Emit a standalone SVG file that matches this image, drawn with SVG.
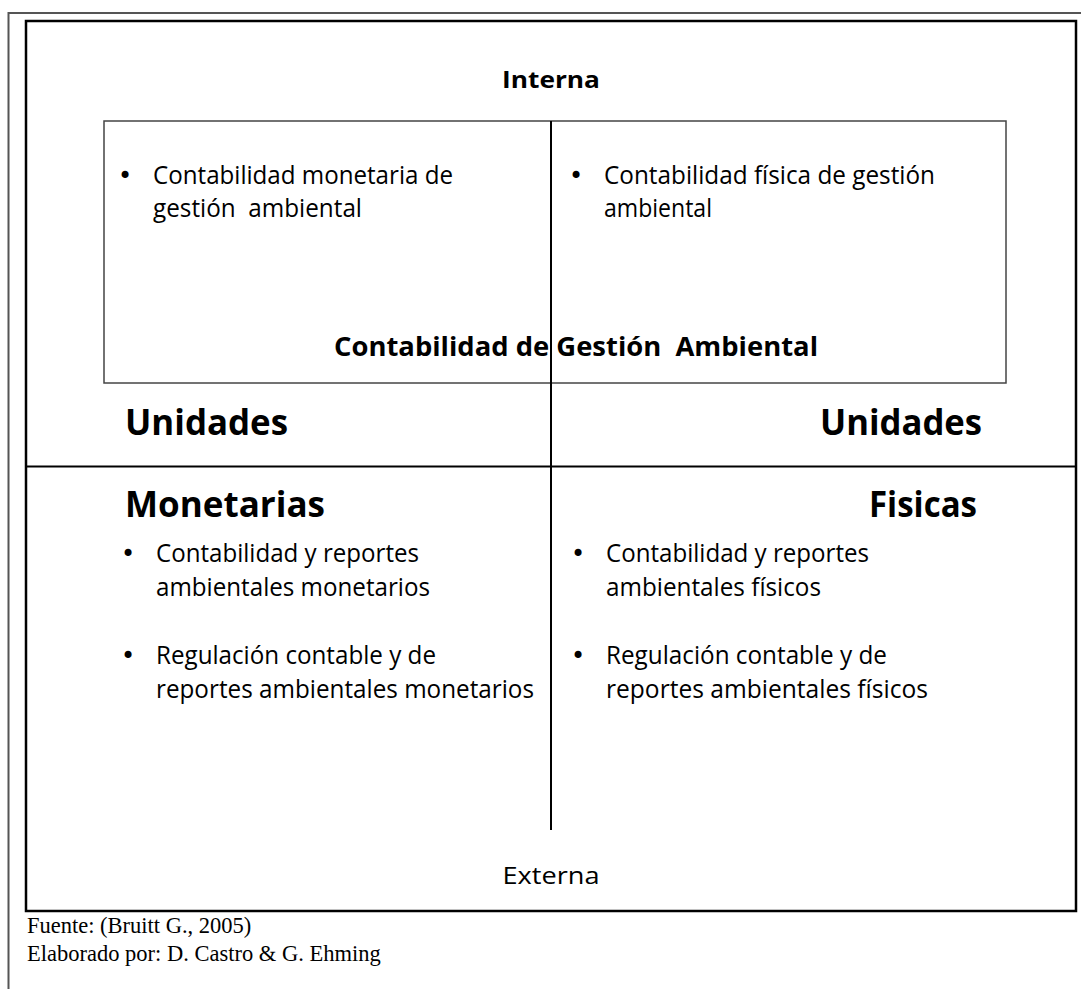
<svg xmlns="http://www.w3.org/2000/svg" width="1081" height="989" viewBox="0 0 1081 989">
<style>
.t{font-family:"Open Sans","Noto Sans",sans-serif;fill:#000;}
.b{font-weight:bold;}
.r{font-size:26px;}
.bl{font-family:"DejaVu Sans",sans-serif;font-size:24px;fill:#000;}
.ft{font-family:"Liberation Serif","Times New Roman",serif;font-size:22.5px;fill:#000;}
.frame{fill:none;stroke:#555;stroke-width:2;}
.line{stroke:#000;stroke-width:2;fill:none;}
</style>
<rect width="1081" height="989" fill="#fff"/>
<g id="page-frame">
<path class="frame" d="M8.5,989 V13 H1081"/>
</g>
<g id="outer-box">
<rect x="26" y="21" width="1050" height="890" fill="none" stroke="#000" stroke-width="2.5"/>
</g>
<g id="inner-box">
<rect x="104" y="121" width="902" height="262" fill="none" stroke="#444" stroke-width="1.5"/>
</g>
<g id="connectors">
<line class="line" x1="551" y1="121" x2="551" y2="830"/>
<line class="line" x1="26" y1="466.5" x2="1076" y2="466.5"/>
</g>
<g id="label-interna">
<text class="t b" x="551" y="88" font-size="23" text-anchor="middle" textLength="98" lengthAdjust="spacingAndGlyphs">Interna</text>
</g>
<g id="q1">
<text class="bl" x="118" y="184">•</text>
<text class="t r" x="153" y="184" textLength="300" lengthAdjust="spacingAndGlyphs">Contabilidad monetaria de</text>
<text class="t r" x="153" y="217" textLength="209" lengthAdjust="spacingAndGlyphs" xml:space="preserve">gestión  ambiental</text>
</g>
<g id="q2">
<text class="bl" x="569" y="184">•</text>
<text class="t r" x="604" y="184" textLength="331" lengthAdjust="spacingAndGlyphs">Contabilidad física de gestión</text>
<text class="t r" x="604" y="217" textLength="108" lengthAdjust="spacingAndGlyphs">ambiental</text>
</g>
<g id="label-cga">
<text class="t b" x="334" y="356" font-size="27" textLength="484" lengthAdjust="spacingAndGlyphs" xml:space="preserve">Contabilidad de Gestión  Ambiental</text>
</g>
<g id="label-unidades-monetarias">
<text class="t b" x="125" y="435" font-size="35" textLength="163" lengthAdjust="spacingAndGlyphs">Unidades</text>
<text class="t b" x="125" y="517" font-size="35" textLength="200" lengthAdjust="spacingAndGlyphs">Monetarias</text>
</g>
<g id="label-unidades-fisicas">
<text class="t b" x="982" y="435" font-size="35" text-anchor="end" textLength="162" lengthAdjust="spacingAndGlyphs">Unidades</text>
<text class="t b" x="977" y="517" font-size="35" text-anchor="end" textLength="108" lengthAdjust="spacingAndGlyphs">Fisicas</text>
</g>
<g id="q3">
<text class="bl" x="121" y="562">•</text>
<text class="t r" x="156" y="562" textLength="263" lengthAdjust="spacingAndGlyphs">Contabilidad y reportes</text>
<text class="t r" x="156" y="596" textLength="274" lengthAdjust="spacingAndGlyphs">ambientales monetarios</text>
<text class="bl" x="121" y="664">•</text>
<text class="t r" x="156" y="664" textLength="280" lengthAdjust="spacingAndGlyphs">Regulación contable y de</text>
<text class="t r" x="156" y="698" textLength="378" lengthAdjust="spacingAndGlyphs">reportes ambientales monetarios</text>
</g>
<g id="q4">
<text class="bl" x="571" y="562">•</text>
<text class="t r" x="606" y="562" textLength="263" lengthAdjust="spacingAndGlyphs">Contabilidad y reportes</text>
<text class="t r" x="606" y="596" textLength="215" lengthAdjust="spacingAndGlyphs">ambientales físicos</text>
<text class="bl" x="571" y="664">•</text>
<text class="t r" x="606" y="664" textLength="281" lengthAdjust="spacingAndGlyphs">Regulación contable y de</text>
<text class="t r" x="606" y="698" textLength="322" lengthAdjust="spacingAndGlyphs">reportes ambientales físicos</text>
</g>
<g id="label-externa">
<text class="t" x="551" y="884" text-anchor="middle" textLength="97" lengthAdjust="spacingAndGlyphs" style="font-size:23px">Externa</text>
</g>
<g id="footer">
<text class="ft" x="27" y="933">Fuente: (Bruitt G., 2005)</text>
<text class="ft" x="27" y="961">Elaborado por: D. Castro &amp; G. Ehming</text>
</g>
</svg>
